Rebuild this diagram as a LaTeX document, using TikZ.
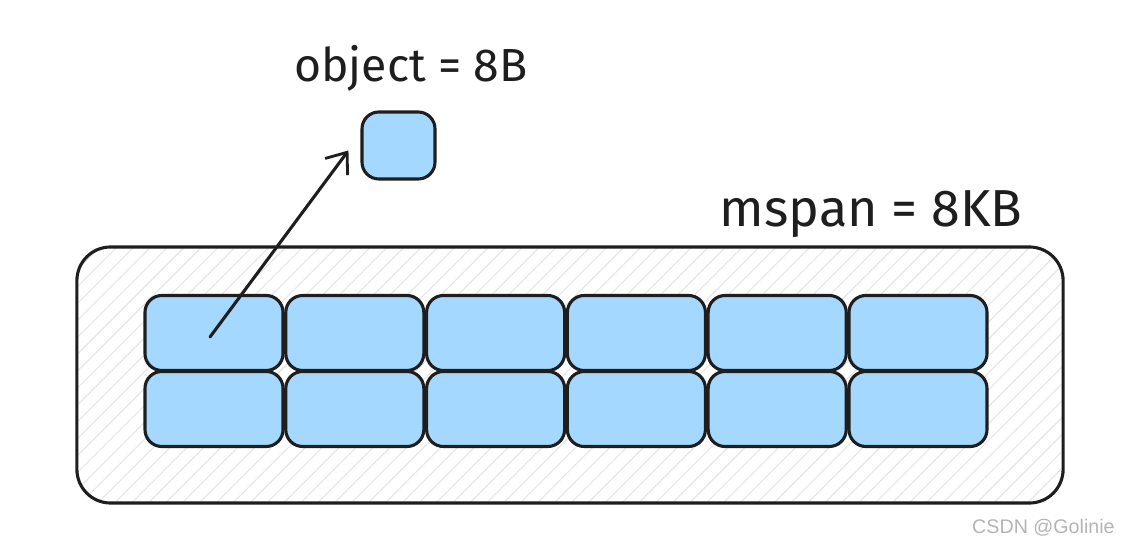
\documentclass[tikz,border=0pt]{standalone}
\usepackage{xcolor}
\usepackage{tikz}
\usepackage{fontspec}
\setmainfont{Fira Sans}
\newfontfamily\wmfont{Liberation Sans}
\usetikzlibrary{
  arrows.meta,
  positioning,
  calc,
  patterns.meta
}
\definecolor{msBlue}{HTML}{A5D8FF}
\definecolor{msInk}{HTML}{1E1E1E}
\definecolor{msHatch}{HTML}{E2E4E8}
\definecolor{msMute}{HTML}{B4B4B4}
\tikzset{
  msnode/.style={
    draw=msInk, line width=2.2pt, rounded corners=12pt, inner sep=0pt
  },
  objbox/.style={msnode, fill=msBlue, minimum width=3.45cm, minimum height=1.875cm},
  smallobj/.style={msnode, fill=msBlue, minimum width=1.825cm, minimum height=1.675cm},
  spanbox/.style={
    msnode, rounded corners=24pt, minimum width=24.65cm, minimum height=6.4cm,
    preaction={fill=white},
    pattern={Lines[angle=45, distance=8.5pt, line width=0.7pt]}, pattern color=msHatch
  },
  caption/.style={font=\fontsize{33}{38}\selectfont, text=msInk, inner sep=0pt},
  pointer/.style={-{Straight Barb[length=4.5mm, width=7mm, line width=2pt]}, line width=2.2pt, draw=msInk, line cap=round},
  watermark/.style={font=\wmfont\fontsize{14}{16}\selectfont, text=msMute, inner sep=0pt}
}

\begin{document}
\begin{tikzpicture}[x=0.025cm, y=-0.025cm]
  \useasboundingbox (0,0) rectangle (1126,550);
  % the mspan with its objects
  \node[spanbox] (span) at (570,375) {};
  \foreach \col in {1,...,6} {
    \node[objbox] (b1\col) at ({214+140.8*(\col-1)},333) {};
    \node[objbox] (b2\col) at ({214+140.8*(\col-1)},409) {};
  }
  % single object
  \node[smallobj] (obj) at (398.5,145.5) {};
  \node[caption] (objlabel) at (411,68) {object = 8B};
  \node[caption, font=\fontsize{37}{42}\selectfont] (spanlabel) at (871,214) {mspan = 8KB};
  \coordinate (src) at (210,337);
  \coordinate (dst) at ($(obj.west)+(-12,5)$);
  \draw[pointer] (src) -- (dst);
  \node[watermark, anchor=east] (wm) at (1115,528) {CSDN @Golinie};
\end{tikzpicture}
\end{document}
